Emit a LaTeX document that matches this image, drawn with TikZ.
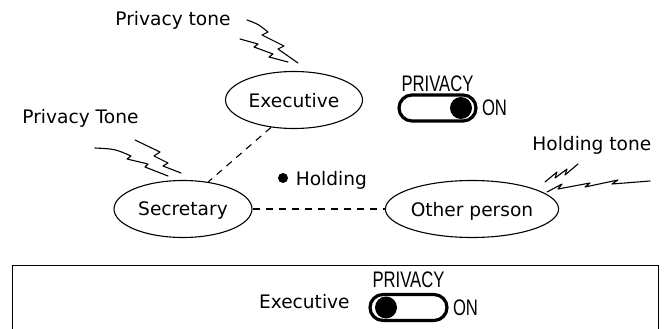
\documentclass[tikz,border=0pt]{standalone}
\usepackage{fontspec}
\setmainfont{DejaVu Sans}
\newfontfamily\switchfont[FakeStretch=0.74]{Liberation Sans}
\usetikzlibrary{positioning}
\usetikzlibrary{shapes,calc}

\begin{document}
\begin{tikzpicture}[x=1pt,y=-1pt,thick,
  font=\fontsize{18.6}{20}\selectfont,
  party/.style={ellipse,draw,line width=1.1pt,inner sep=0pt,text depth=0pt,minimum height=57pt},
  word/.style={inner sep=0pt,text depth=0pt},
  caps/.style={inner sep=0pt,font=\switchfont\fontsize{22.5}{24}\selectfont},
  slider/.style={draw,line width=3.2pt,rounded corners=13pt,minimum width=77pt,minimum height=26pt,inner sep=0pt},
  knob/.style={circle,fill,inner sep=0pt,minimum size=22pt},
  tone/.style={line width=1.1pt,line join=round,line cap=round},
  link/.style={line width=1.1pt,dash pattern=on 7pt off 6pt}]
  \useasboundingbox (0,0) rectangle (665,329);

  % the three people on the call
  \node (exec) [party,minimum width=137pt] at (294,100) {Executive};
  \node (sec) [party,minimum width=138pt] at (183,209) {Secretary};
  \node (other) [party,minimum width=160pt] at (472,209) {Other person};
  \draw[link] (exec.230) -- (sec.47);
  \draw[link] (sec.east) -- (other.west);

  \node (dot) [circle,fill,inner sep=0pt,minimum size=10pt] at (283,178) {};
  \node (hold) [word,right=7pt of dot] {Holding};

  % tones
  \node (ptone) [word,anchor=base west] at (115,25.5) {Privacy tone};
  \node (pTone) [word,anchor=base west] at (22,123.5) {Privacy Tone};
  \node (htone) [word,anchor=base west] at (532,150.5) {Holding tone};
  \draw[tone] (247,20) .. controls (258,24) .. (268,32) -- (262,35) -- (284,46) -- (278,49) -- (298,63);
  \draw[tone] (240,39) -- (258,44) -- (254,47) -- (273,54) -- (269,57) -- (288,62);
  \draw[tone] (95,148) .. controls (115,149) .. (131,156) -- (127,159) -- (148,164) -- (145,167) -- (168,176);
  \draw[tone] (135,140) -- (160,152) -- (154,156) -- (168,163) -- (163,166) -- (181,173);
  \draw[tone] (545,182) -- (557,172) -- (555,178) -- (567,169) -- (565,175) -- (578,164);
  \draw[tone] (547,192) -- (562,184) -- (558,189) -- (590,183) -- (585,187) -- (618,180) -- (612,184) -- (650,181);

  % privacy switch, on
  \node (sw1) [slider] at (437.5,108) {};
  \node (knob1) [knob] at (461,108) {};
  \node (priv1) [caps,above=1pt of sw1] {PRIVACY};
  \node (on1) [caps,right=4pt of sw1] {ON};

  % the executive's panel
  \draw[line width=1pt] (12,329) -- (12,265) -- (658,265) -- (658,329);
  \node (sw2) [slider] at (408.5,307.5) {};
  \node (knob2) [knob] at (386,307.5) {};
  \node (priv2) [caps,above=5pt of sw2] {PRIVACY};
  \node (on2) [caps,right=4pt of sw2] {ON};
  \node (exec2) [word,anchor=east] at (350,301.5) {Executive};
\end{tikzpicture}
\end{document}
